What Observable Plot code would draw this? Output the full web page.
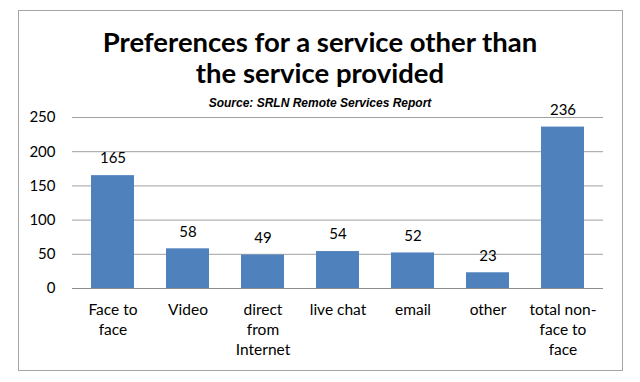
<!DOCTYPE html>
<html><head><meta charset="utf-8">
<script src="https://cdn.jsdelivr.net/npm/d3@7"></script>
<script src="https://cdn.jsdelivr.net/npm/@observablehq/plot@0.6"></script>
<style>
body{margin:0;background:#fff;}
#wrap{position:relative;width:640px;height:382px;overflow:hidden;font-family:Lato,"Open Sans",sans-serif;}
#frame{position:absolute;left:18px;top:10px;width:603px;height:359px;border:1px solid #a6a6a6;}
#title{position:absolute;left:0;width:640px;top:26px;text-align:center;font-weight:bold;font-size:27.5px;line-height:31px;color:#000;}
#sub{position:absolute;left:0;width:640px;top:96px;text-align:center;font-family:"Liberation Sans",Arial,sans-serif;font-weight:bold;font-style:italic;font-size:12px;color:#000;}
#chart{position:absolute;left:0;top:0;}
</style></head>
<body><div id="wrap"><div id="frame"></div><div id="title">Preferences for a service other than<br>the service provided</div><div id="sub">Source: SRLN Remote Services Report</div><div id="chart"></div></div>
<script>
const categories = ["Face to\nface", "Video", "direct\nfrom\nInternet", "live chat", "email", "other", "total non-\nface to\nface"];
const values = [165, 58, 49, 54, 52, 23, 236];
const yTicks = [0, 50, 100, 150, 200, 250];

const data = categories.map((c, i) => ({cat: c, value: values[i]}));

const chart = Plot.plot({
  width: 640,
  height: 382,
  marginTop: 117,
  marginBottom: 94,
  marginLeft: 72,
  marginRight: 37,
  style: {fontFamily: "Lato, 'Open Sans', sans-serif", background: "transparent", color: "#000"},
  x: {domain: categories, paddingInner: 0.43, paddingOuter: 0.215, label: null},
  y: {domain: [0, 250], label: null},
  marks: [
    Plot.gridY(yTicks, {stroke: "#a0a0a0", strokeOpacity: 1, strokeWidth: 1}),
    Plot.barY(data, {x: "cat", y: "value", fill: "#4f81bd"}),
    Plot.ruleY([0], {stroke: "#8c8c8c", strokeWidth: 1}),
    Plot.text(data, {x: "cat", y: "value", text: d => String(d.value), dy: -17, fontSize: 15, fill: "#000"}),
    Plot.axisY(yTicks, {tickSize: 0, tickPadding: 17, fontSize: 15, label: null, fill: "#000"}),
    Plot.axisX({tickSize: 0, tickPadding: 12, fontSize: 15.5, lineHeight: 1.3, label: null, fill: "#000"})
  ]
});
document.getElementById("chart").appendChild(chart);
</script>
</body></html>
